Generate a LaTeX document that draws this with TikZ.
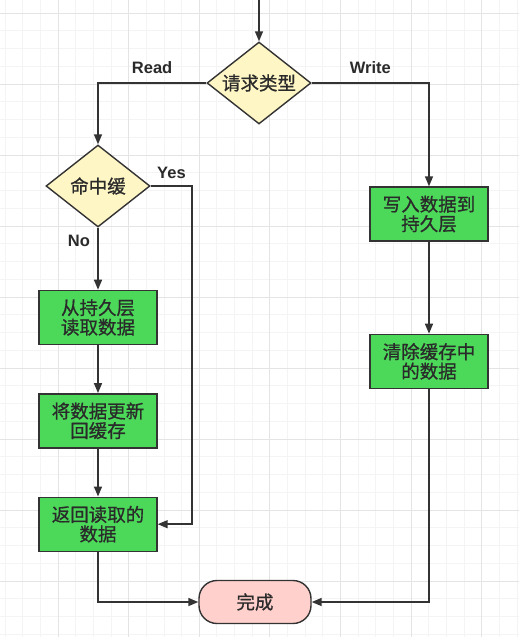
\documentclass[tikz,border=0pt]{standalone}
\usepackage{fontspec}
\setmainfont{Noto Sans CJK SC}[FakeBold=0.8]
\newfontfamily\labelfont{Liberation Sans}
\usetikzlibrary{shapes.geometric}
\usetikzlibrary{arrows.meta}
\usetikzlibrary{positioning}
\definecolor{boxgreen}{HTML}{4CD95A}
\definecolor{decisionyellow}{HTML}{FFF6C6}
\definecolor{finalpink}{HTML}{FFD0CC}
\definecolor{linegray}{HTML}{333333}
\definecolor{textgray}{HTML}{2A2A2A}
\definecolor{gridmajor}{HTML}{E4E4E4}
\definecolor{gridminor}{HTML}{F4F4F4}
\tikzset{
	decision/.style={diamond, aspect=1.27, inner sep=0pt, minimum width=104pt, minimum height=82pt, draw=linegray, line width=1.4pt, fill=decisionyellow},
	action/.style={rectangle, draw=linegray, line width=1.4pt, fill=boxgreen, align=center, minimum width=118pt, minimum height=54pt, inner sep=0pt},
	final/.style={rectangle, rounded corners=18pt, draw=linegray, line width=1.4pt, fill=finalpink, minimum width=112pt, minimum height=43pt},
	arrow/.style={draw=linegray, -{Triangle[length=10pt, width=8pt]}, line width=1.5pt},
	branch/.style={font=\labelfont\bfseries\fontsize{16.5}{18}\selectfont, text=textgray}
}
\begin{document}
\begin{tikzpicture}[x=1pt, y=-1pt, font=\fontsize{18.5}{19.5}\selectfont, text=textgray]
\useasboundingbox[fill=white] (0,0) rectangle (519,637);

% grid
\foreach \x in {5.05,22.7,...,519} \draw[gridminor, line width=0.8pt] (\x,0) -- (\x,637);
\foreach \y in {13,30.75,...,637} \draw[gridminor, line width=0.8pt] (0,\y) -- (519,\y);
\foreach \x in {58,128.6,...,519} \draw[gridmajor, line width=1pt] (\x,0) -- (\x,637);
\foreach \y in {13,84,...,637} \draw[gridmajor, line width=1pt] (0,\y) -- (519,\y);

\coordinate (start) at (259,0);
\node[decision] (type) at (259,83) {请求类型};
\node[decision] (hit) at (98,186) {命中缓};

\node[action, below = 62pt of hit] (readbox) {从持久层\\读取数据};
\node[action, below = 48pt of readbox] (updatebox) {将数据更新\\回缓存};
\node[action, below = 48pt of updatebox] (returnbox) {返回读取的\\数据};

\node[action] (writebox) at (429,214) {写入数据到\\持久层};
\node[action, below = 92pt of writebox] (clearbox) {清除缓存中\\的数据};

\node[final] (done) at (255,602) {完成};

\draw [arrow] (start) -- (type);
\draw [arrow] (type.west) -| (hit.north) node[branch, pos=0.25, above=5pt] {Read};
\draw [arrow] (type.east) -| (writebox.north) node[branch, pos=0.25, above=5pt] {Write};
\draw [arrow] (hit.south) -- (readbox) node[branch, pos=0.21, left=4pt] {No};
\draw [arrow] (hit.east) -- ++(41.5,0) node[branch, midway, above=3pt] {Yes} |- (returnbox.east);
\draw [arrow] (readbox) -- (updatebox);
\draw [arrow] (updatebox) -- (returnbox);
\draw [arrow] (returnbox.south) |- (done.west);
\draw [arrow] (writebox) -- (clearbox);
\draw [arrow] (clearbox.south) |- (done.east);

\end{tikzpicture}
\end{document}
